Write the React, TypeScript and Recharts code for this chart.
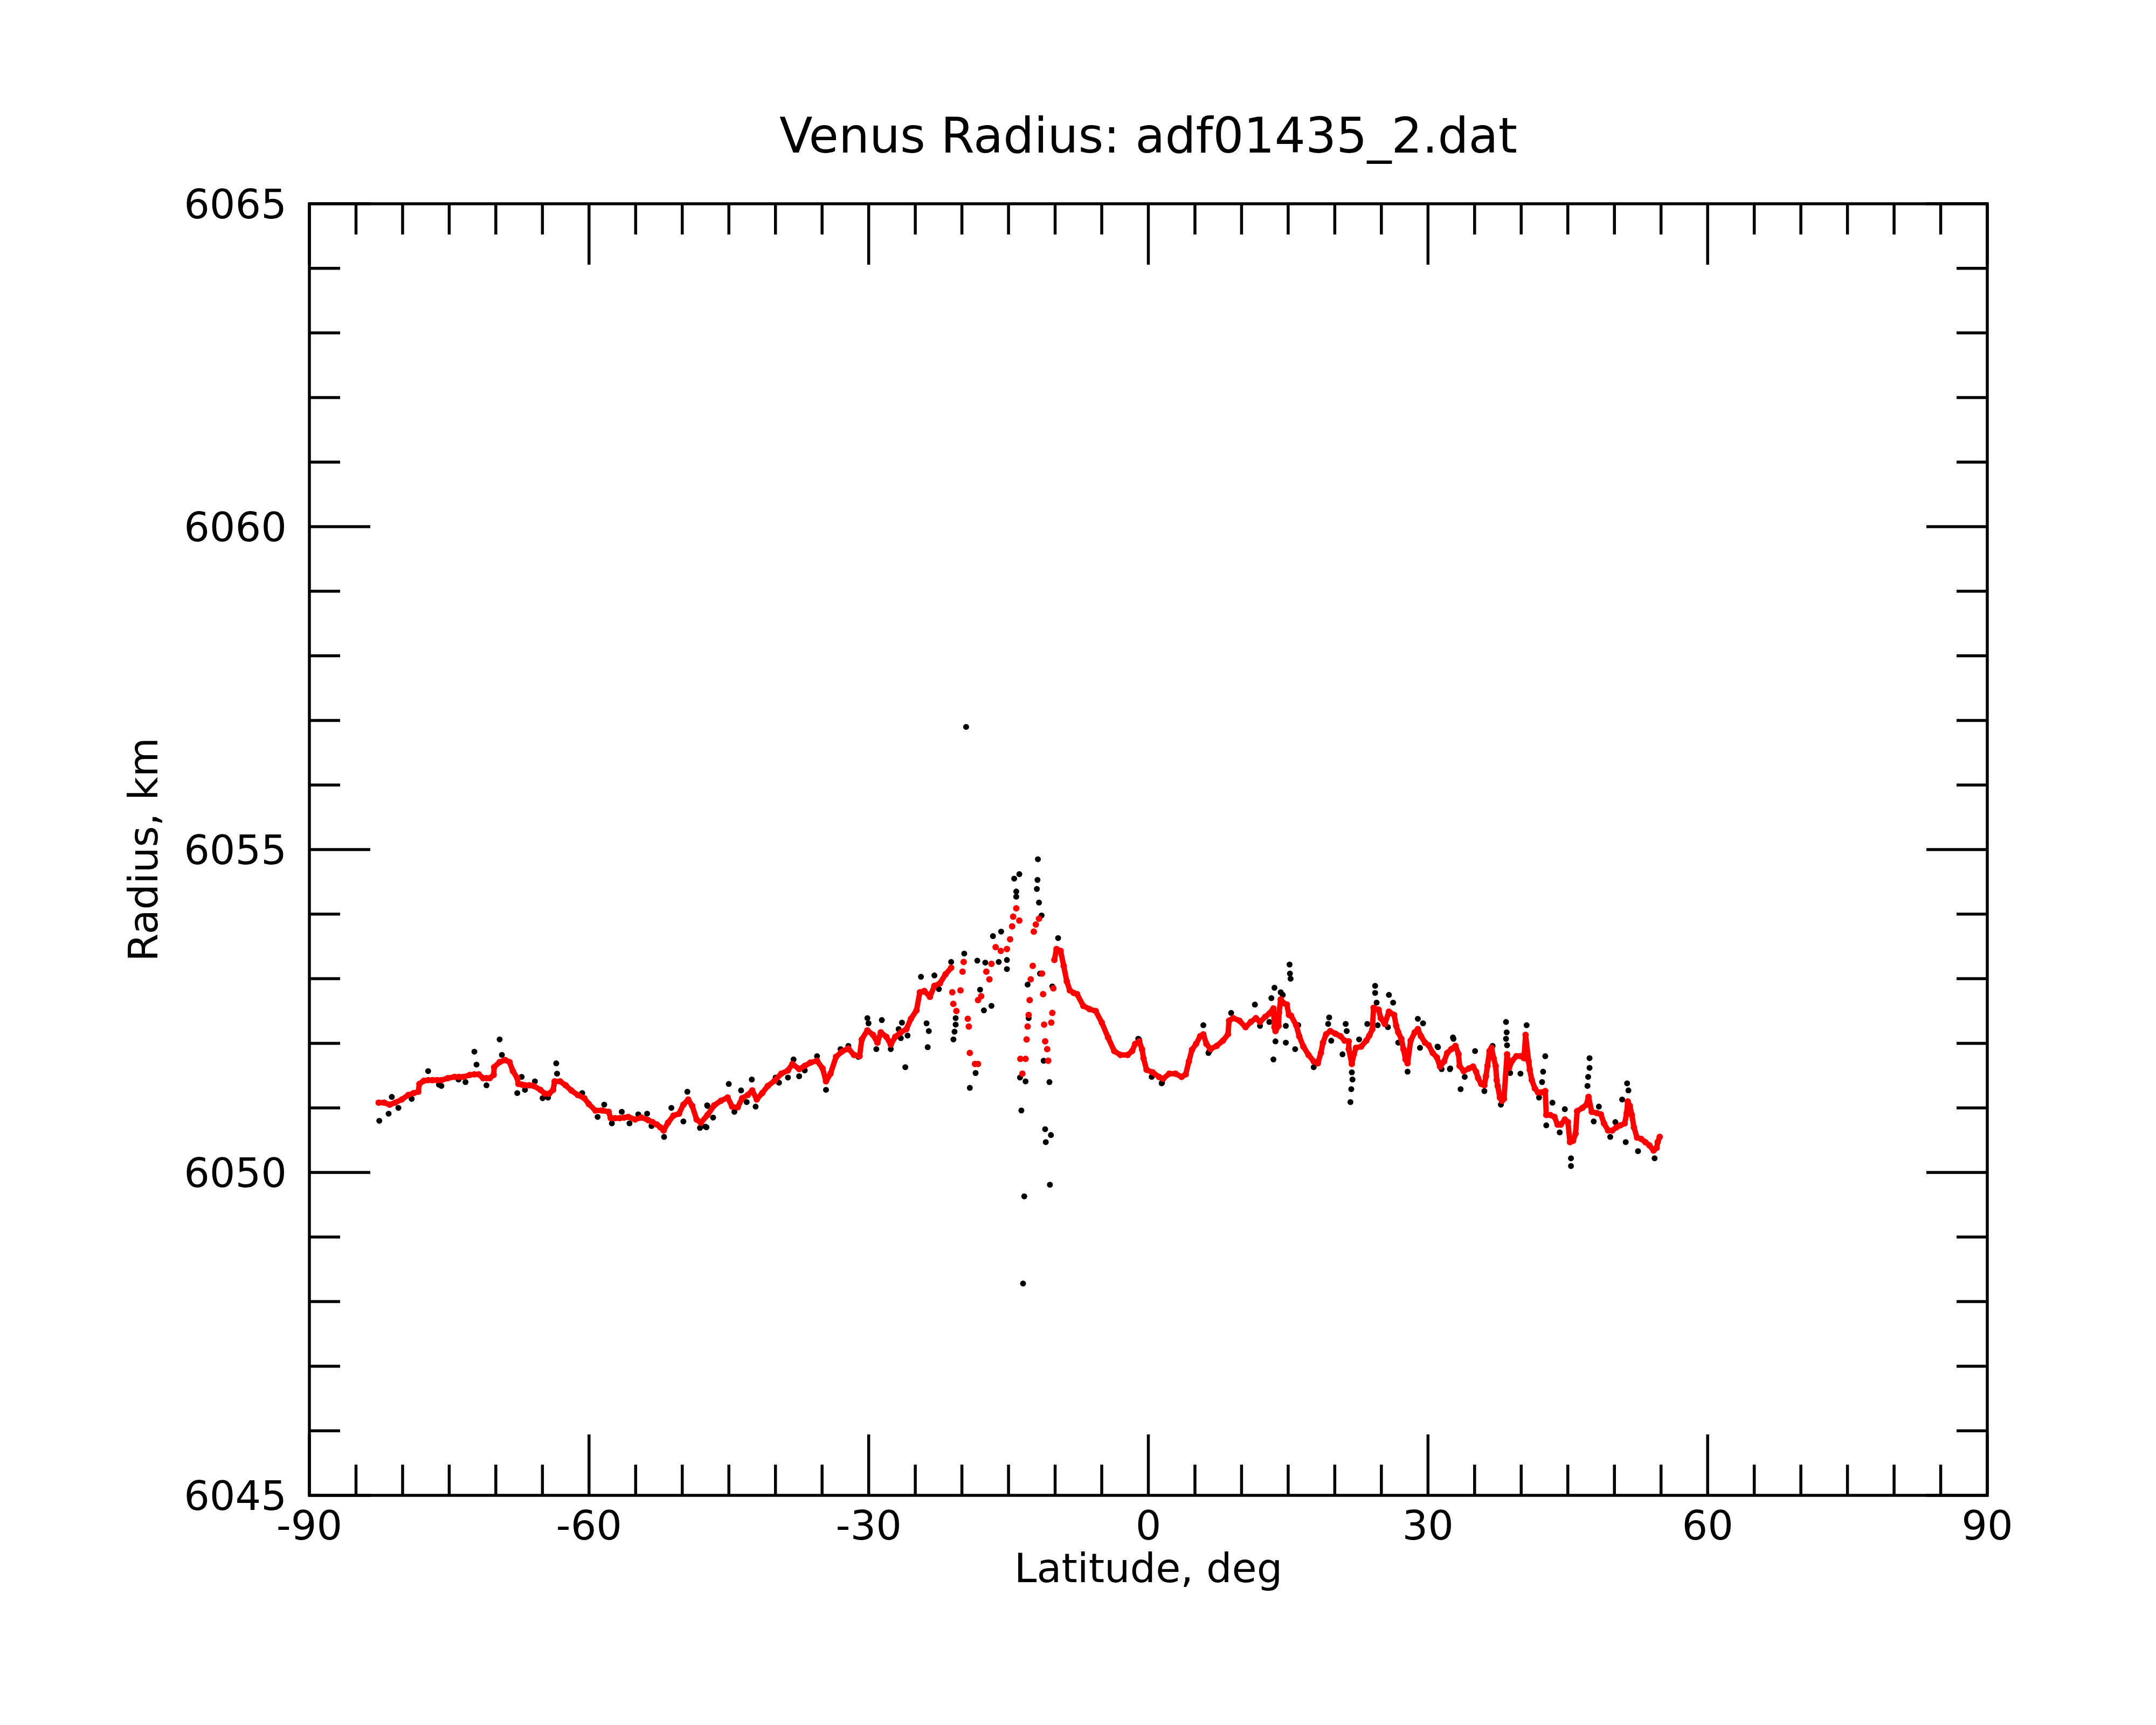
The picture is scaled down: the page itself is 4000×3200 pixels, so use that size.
import React from 'react';
import { ScatterChart, Scatter, XAxis, YAxis, ReferenceArea } from 'recharts';

// smoothed radius (red)
const RED_LAT = [
  -82.57, -81.98, -81.39, -80.8, -80.09, -79.39, -78.8, -78.32, -78.2, -77.73, -77.26, -76.79, -76.3, -75.84,
  -75.14, -74.43, -73.95, -73.48, -72.78, -72.3, -71.83, -71.36, -71.0, -70.65, -70.23, -70.18, -69.59, -69.0,
  -68.53, -68.17, -67.7, -67.58, -67.2, -66.87, -66.4, -65.93, -65.22, -64.75, -64.28, -63.85, -63.69, -63.1,
  -62.51, -61.91, -61.21, -60.5, -60.03, -59.32, -58.61, -57.9, -57.67, -57.2, -56.72, -56.25, -55.78, -55.07,
  -54.36, -53.65, -53.2, -52.71, -52.35, -52.0, -51.53, -50.94, -50.35, -49.88, -49.36, -48.93, -48.46, -48.01,
  -47.29, -46.57, -45.85, -45.13, -44.65, -44.05, -43.57, -42.97, -42.49, -42.01, -41.42, -40.82, -40.1, -39.38,
  -38.66, -38.18, -37.46, -36.86, -36.26, -35.54, -34.94, -34.58, -34.1, -33.5, -32.9, -32.18, -31.58, -30.98,
  -30.74, -30.14, -29.54, -29.06, -28.7, -28.1, -27.63, -27.15, -26.55, -25.95, -25.47, -24.87, -24.51, -24.03,
  -23.43, -22.95, -22.35, -21.75, -21.15, -21.03, -20.92, -20.59, -20.15, -19.93, -19.81, -19.37, -19.26, -19.15,
  -18.6, -18.27, -18.27, -17.93, -17.38, -17.05, -16.83, -16.38, -15.83, -15.17, -14.83, -14.61, -14.5, -14.17,
  -13.84, -13.73, -13.51, -13.17, -13.06, -12.95, -12.84, -12.73, -12.62, -12.4, -12.29, -12.07, -11.73, -11.4,
  -11.29, -11.18, -11.07, -10.85, -10.74, -10.41, -10.3, -10.19, -10.08, -9.85, -9.41, -9.08, -8.75, -8.42,
  -8.0, -7.64, -6.98, -6.31, -5.65, -4.99, -4.32, -3.66, -2.99, -2.22, -1.74, -1.41, -0.97, -0.68,
  -0.52, -0.19, 0.47, 1.14, 1.58, 2.24, 2.91, 3.57, 4.01, 4.35, 4.68, 5.12, 5.56, 5.9,
  6.23, 6.67, 7.33, 8.0, 8.55, 8.66, 9.1, 9.77, 10.43, 10.99, 11.54, 11.98, 12.54, 12.98,
  13.42, 13.53, 13.64, 13.97, 14.02, 14.2, 14.53, 14.86, 15.08, 15.3, 15.86, 16.19, 16.63, 17.18,
  17.74, 18.18, 18.51, 18.73, 19.07, 19.51, 20.06, 20.61, 21.06, 21.5, 21.5, 21.83, 22.05, 22.28,
  22.83, 23.38, 23.71, 24.04, 24.16, 24.71, 24.93, 25.37, 25.81, 26.37, 26.59, 26.81, 27.14, 27.37,
  27.59, 27.81, 28.14, 28.58, 28.91, 29.25, 29.69, 30.07, 30.51, 30.96, 31.29, 31.73, 32.06, 32.5,
  32.95, 33.28, 33.39, 33.83, 34.39, 34.83, 35.16, 35.38, 35.71, 36.05, 36.22, 36.38, 36.6, 36.82,
  37.04, 37.26, 37.37, 37.48, 37.71, 37.93, 38.15, 38.48, 38.7, 39.03, 39.48, 39.92, 40.3, 40.47,
  40.8, 40.92, 41.14, 41.47, 41.8, 42.13, 42.58, 42.69, 43.13, 43.57, 43.9, 44.24, 44.68, 45.01,
  45.23, 45.56, 45.83, 46.0, 46.56, 47.0, 47.22, 47.56, 48.11, 48.55, 48.88, 49.33, 49.77, 50.21,
  50.65, 51.1, 51.32, 51.43, 51.65, 51.87, 52.09, 52.43, 52.87, 53.31, 53.75, 54.2, 54.53, 54.64,
  54.86,
];
const RED_R = [
  6051.08, 6051.08, 6051.05, 6051.08, 6051.13, 6051.2, 6051.23, 6051.25, 6051.37, 6051.42, 6051.43, 6051.43, 6051.43, 6051.43,
  6051.46, 6051.48, 6051.48, 6051.48, 6051.51, 6051.52, 6051.52, 6051.46, 6051.46, 6051.46, 6051.51, 6051.63, 6051.71, 6051.74,
  6051.71, 6051.57, 6051.46, 6051.37, 6051.36, 6051.35, 6051.35, 6051.34, 6051.28, 6051.22, 6051.22, 6051.28, 6051.41, 6051.41,
  6051.35, 6051.27, 6051.2, 6051.15, 6051.06, 6050.96, 6050.96, 6050.94, 6050.84, 6050.84, 6050.84, 6050.85, 6050.86, 6050.82,
  6050.85, 6050.81, 6050.78, 6050.74, 6050.7, 6050.65, 6050.77, 6050.88, 6050.91, 6051.05, 6051.13, 6051.03, 6050.82, 6050.77,
  6050.89, 6051.04, 6051.11, 6051.16, 6051.02, 6051.01, 6051.15, 6051.2, 6051.27, 6051.13, 6051.23, 6051.34, 6051.42, 6051.53,
  6051.58, 6051.68, 6051.6, 6051.65, 6051.7, 6051.73, 6051.61, 6051.41, 6051.53, 6051.79, 6051.87, 6051.92, 6051.82, 6051.8,
  6052.06, 6052.2, 6052.13, 6052.01, 6052.17, 6052.1, 6051.98, 6052.1, 6052.17, 6052.22, 6052.38, 6052.51, 6052.79, 6052.81,
  6052.72, 6052.89, 6052.93, 6053.07, 6053.17, 6052.79, 6052.61, 6052.5, 6052.82, 6053.11, 6053.26, 6052.38, 6052.26, 6051.85,
  6051.68, 6051.68, 6052.67, 6052.73, 6053.11, 6052.99, 6053.23, 6053.49, 6053.43, 6053.46, 6053.61, 6053.81, 6053.96, 6054.09,
  6053.9, 6051.76, 6051.53, 6051.76, 6052.06, 6052.26, 6052.44, 6052.67, 6052.99, 6053.2, 6053.73, 6053.84, 6053.93, 6053.08,
  6052.76, 6052.29, 6052.03, 6051.91, 6051.73, 6052.32, 6052.47, 6052.85, 6053.29, 6053.46, 6053.43, 6053.2, 6052.96, 6052.82,
  6052.78, 6052.76, 6052.58, 6052.53, 6052.5, 6052.32, 6052.09, 6051.88, 6051.82, 6051.82, 6051.88, 6051.99, 6052.03, 6051.91,
  6051.77, 6051.59, 6051.55, 6051.48, 6051.45, 6051.53, 6051.53, 6051.48, 6051.52, 6051.72, 6051.9, 6051.99, 6052.11, 6052.14,
  6051.99, 6051.91, 6051.96, 6052.04, 6052.14, 6052.35, 6052.39, 6052.35, 6052.25, 6052.33, 6052.39, 6052.33, 6052.41, 6052.46,
  6052.54, 6052.25, 6052.19, 6052.27, 6052.47, 6052.68, 6052.62, 6052.6, 6052.44, 6052.43, 6052.28, 6052.11, 6051.95, 6051.82,
  6051.72, 6051.69, 6051.85, 6052.01, 6052.14, 6052.19, 6052.15, 6052.11, 6052.04, 6052.03, 6051.91, 6051.68, 6051.83, 6051.93,
  6051.95, 6052.04, 6052.12, 6052.22, 6052.55, 6052.52, 6052.39, 6052.3, 6052.49, 6052.44, 6052.27, 6052.17, 6052.07, 6051.91,
  6051.75, 6051.69, 6052.04, 6052.17, 6052.22, 6052.11, 6052.01, 6051.97, 6051.85, 6051.78, 6051.64, 6051.72, 6051.85, 6051.91,
  6051.96, 6051.83, 6051.65, 6051.57, 6051.61, 6051.64, 6051.56, 6051.46, 6051.37, 6051.35, 6051.49, 6051.65, 6051.88, 6051.93,
  6051.77, 6051.65, 6051.43, 6051.34, 6051.16, 6051.11, 6051.14, 6051.83, 6051.62, 6051.73, 6051.8, 6051.8, 6051.77, 6052.13,
  6051.72, 6051.59, 6051.43, 6051.3, 6051.24, 6051.24, 6051.26, 6050.89, 6050.89, 6050.86, 6050.74, 6050.74, 6050.82, 6050.78,
  6050.47, 6050.49, 6050.6, 6050.95, 6051.0, 6051.05, 6051.17, 6050.94, 6050.92, 6050.9, 6050.76, 6050.65, 6050.65, 6050.7,
  6050.73, 6050.76, 6050.92, 6051.1, 6051.03, 6050.89, 6050.7, 6050.54, 6050.52, 6050.47, 6050.42, 6050.34, 6050.38, 6050.47,
  6050.55,
];

// raw radius points that stand off the smoothed curve (black)
const BLACK_LAT = [
  -82.5, -81.5, -81.16, -80.45, -79.03, -77.26, -76.1, -75.84, -74.0, -73.25, -72.3, -72.07, -71.0, -69.59,
  -69.35, -67.7, -67.23, -66.87, -65.81, -64.98, -64.4, -63.52, -63.43, -60.73, -59.08, -58.37, -57.55, -56.49,
  -55.66, -54.72, -53.77, -53.3, -51.95, -51.17, -49.88, -49.45, -48.1, -47.33, -47.4, -47.53, -47.29, -46.69,
  -45.01, -44.41, -43.69, -43.09, -42.54, -42.13, -39.98, -39.62, -38.66, -38.06, -37.46, -36.86, -35.54, -34.58,
  -33.02, -32.18, -31.1, -30.14, -30.02, -29.18, -28.59, -27.63, -26.79, -26.43, -26.55, -26.07, -25.83, -24.39,
  -23.79, -23.55, -23.67, -22.95, -22.47, -21.15, -20.91, -20.79, -20.67, -20.67, -19.55, -14.39, -13.84, -14.17,
  -14.17, -11.85, -11.89, -11.96, -11.73, -11.45, -13.62, -13.31, -13.44, -11.07, -10.45, -11.0, -10.56, -10.61,
  -13.17, -13.77, -11.23, -19.15, -18.53, -17.64, -16.83, -18.05, -18.35, -17.49, -16.05, -15.17, -15.17, -15.79,
  -16.67, -19.75, -12.95, -11.62, -10.3, -12.84, -9.68, -1.0, 1.43, -1.08, 0.36, 1.47, 6.45, 6.56,
  5.9, 8.88, 11.43, 11.98, 12.98, 13.42, 13.64, 13.53, 13.2, 14.42, 14.2, 15.15, 15.19, 15.26,
  14.75, 14.75, 15.75, 16.08, 17.74, 19.4, 19.29, 19.62, 21.17, 21.28, 20.83, 21.83, 21.9, 21.77,
  21.68, 22.61, 23.49, 24.33, 24.33, 24.49, 24.6, 25.81, 26.26, 25.7, 26.81, 27.81, 28.91, 29.47,
  29.14, 31.02, 31.46, 32.35, 32.68, 32.73, 31.07, 32.39, 33.5, 33.94, 35.05, 36.05, 36.93, 37.82,
  38.37, 38.44, 38.37, 38.48, 38.81, 39.92, 40.58, 42.58, 42.35, 42.24, 41.91, 43.35, 42.69, 44.13,
  44.68, 45.34, 45.34, 47.33, 47.33, 47.18, 47.11, 47.78, 48.33, 49.55, 50.1, 50.83, 51.21, 51.36,
  51.5, 52.53, 54.31,
];
const BLACK_R = [
  6050.8, 6050.91, 6051.17, 6051.0, 6051.14, 6051.57, 6051.36, 6051.34, 6051.44, 6051.4, 6051.87, 6051.67, 6051.35, 6052.06,
  6051.82, 6051.23, 6051.48, 6051.28, 6051.41, 6051.15, 6051.16, 6051.69, 6051.53, 6051.23, 6050.86, 6051.05, 6050.76, 6050.94,
  6050.76, 6050.9, 6050.91, 6050.72, 6050.55, 6051.0, 6050.79, 6051.25, 6050.69, 6051.04, 6050.7, 6050.71, 6051.03, 6050.85,
  6051.37, 6050.94, 6051.27, 6051.09, 6051.44, 6051.02, 6051.47, 6051.39, 6051.47, 6051.75, 6051.49, 6051.58, 6051.8, 6051.28,
  6051.91, 6051.96, 6051.79, 6052.39, 6052.31, 6051.91, 6052.36, 6051.91, 6052.22, 6052.32, 6052.08, 6051.63, 6052.12, 6053.03,
  6052.31, 6052.19, 6051.94, 6053.05, 6052.84, 6053.26, 6052.06, 6052.18, 6052.29, 6052.39, 6056.9, 6054.55, 6054.62, 6054.35,
  6054.27, 6054.85, 6054.53, 6054.39, 6054.18, 6053.98, 6050.96, 6049.63, 6048.28, 6050.67, 6050.58, 6050.47, 6049.81, 6051.4,
  6051.41, 6051.47, 6051.73, 6051.31, 6051.54, 6052.51, 6052.58, 6052.83, 6053.28, 6053.25, 6053.26, 6053.15, 6053.29, 6053.73,
  6053.66, 6053.39, 6052.91, 6053.08, 6052.88, 6052.39, 6053.63, 6052.06, 6051.38, 6052.07, 6051.48, 6051.39, 6051.85, 6051.88,
  6052.28, 6052.47, 6052.6, 6052.27, 6052.33, 6051.75, 6052.03, 6052.86, 6052.7, 6052.75, 6052.79, 6053.22, 6053.08, 6053.0,
  6052.27, 6052.01, 6051.91, 6052.28, 6051.63, 6052.4, 6052.3, 6052.04, 6052.3, 6052.19, 6051.83, 6051.55, 6051.44, 6051.29,
  6051.09, 6052.06, 6052.3, 6052.89, 6052.78, 6052.63, 6052.28, 6052.75, 6052.63, 6052.25, 6052.01, 6051.56, 6052.38, 6052.31,
  6051.93, 6051.95, 6051.6, 6051.6, 6052.09, 6052.07, 6051.94, 6051.61, 6051.29, 6051.48, 6051.88, 6051.26, 6051.96, 6051.05,
  6052.33, 6052.17, 6052.07, 6051.97, 6051.54, 6051.53, 6052.28, 6051.8, 6051.56, 6051.4, 6051.16, 6051.08, 6050.73, 6050.62,
  6050.98, 6050.22, 6050.1, 6051.77, 6051.62, 6051.48, 6051.34, 6050.79, 6051.02, 6050.55, 6050.78, 6051.13, 6050.47, 6051.38,
  6051.27, 6050.33, 6050.22,
];

const LAT_TICKS = [-90, -85, -80, -75, -70, -65, -60, -55, -50, -45, -40, -35, -30, -25, -20, -15, -10, -5, 0,
  5, 10, 15, 20, 25, 30, 35, 40, 45, 50, 55, 60, 65, 70, 75, 80, 85, 90];
const LAT_LABELS = [-90, -60, -30, 0, 30, 60, 90];
const R_TICKS = [6045, 6046, 6047, 6048, 6049, 6050, 6051, 6052, 6053, 6054, 6055, 6056, 6057, 6058, 6059,
  6060, 6061, 6062, 6063, 6064, 6065];
const R_LABELS = [6045, 6050, 6055, 6060, 6065];

// where the smoothed curve breaks up into scattered points
const SCATTER_FROM = -21.1;
const SCATTER_TO = -10.1;

const W = 4000;
const H = 3200;
const LEFT = 574;
const RIGHT = 3687;
const TOP = 378;
const BOTTOM = 2774;
const AXIS_SIZE = 150;
const MAJOR = 113;
const MINOR = 57;
const LW = 5.5;
const FONT = 'DejaVu Sans, sans-serif';

const red = RED_LAT.map((lat, i) => ({ lat, r: RED_R[i] }));
const black = BLACK_LAT.map((lat, i) => ({ lat, r: BLACK_R[i] }));
const redSouth = red.filter((p) => p.lat < SCATTER_FROM);
const redMid = red.filter((p) => p.lat >= SCATTER_FROM && p.lat <= SCATTER_TO);
const redNorth = red.filter((p) => p.lat > SCATTER_TO);

function LatTick({ x, payload }: any) {
  const v = payload.value;
  const len = LAT_LABELS.includes(v) ? MAJOR : MINOR;
  return (
    <g>
      <line x1={x} x2={x} y1={BOTTOM} y2={BOTTOM - len} stroke="#000" strokeWidth={LW} />
      <line x1={x} x2={x} y1={TOP} y2={TOP + len} stroke="#000" strokeWidth={LW} />
      {LAT_LABELS.includes(v) && (
        <text x={x} y={BOTTOM + 82} textAnchor="middle" fontSize={75} fontFamily={FONT} fill="#000">
          {String(v)}
        </text>
      )}
    </g>
  );
}

function RadiusTick({ y, payload }: any) {
  const v = payload.value;
  const len = R_LABELS.includes(v) ? MAJOR : MINOR;
  return (
    <g>
      <line x1={LEFT} x2={LEFT + len} y1={y} y2={y} stroke="#000" strokeWidth={LW} />
      <line x1={RIGHT} x2={RIGHT - len} y1={y} y2={y} stroke="#000" strokeWidth={LW} />
      {R_LABELS.includes(v) && (
        <text x={532} y={y + 27} textAnchor="end" fontSize={75} fontFamily={FONT} fill="#000">
          {String(v)}
        </text>
      )}
    </g>
  );
}

const dot = (fill: string, r: number) => (p: any) => <circle cx={p.cx} cy={p.cy} r={r} fill={fill} />;
const redTrace = { stroke: '#ff0000', strokeWidth: 10, strokeLinejoin: 'round', strokeLinecap: 'round' };

export default function App() {
  return (
    <div style={{ position: 'absolute', left: 0, top: 0, width: W, height: H, background: '#fff' }}>
      <ScatterChart
        width={W}
        height={H}
        margin={{ top: TOP, right: W - RIGHT, bottom: H - BOTTOM - AXIS_SIZE, left: LEFT - AXIS_SIZE }}
      >
        <XAxis
          type="number"
          dataKey="lat"
          domain={[-90, 90]}
          ticks={LAT_TICKS}
          interval={0}
          height={AXIS_SIZE}
          axisLine={false}
          tickLine={false}
          tick={<LatTick />}
          allowDataOverflow
        />
        <YAxis
          type="number"
          dataKey="r"
          domain={[6045, 6065]}
          ticks={R_TICKS}
          interval={0}
          width={AXIS_SIZE}
          axisLine={false}
          tickLine={false}
          tick={<RadiusTick />}
          allowDataOverflow
        />
        <Scatter data={black} fill="#000" shape={dot('#000', 5.5)} isAnimationActive={false} />
        <Scatter data={redSouth} fill="#ff0000" line={redTrace} shape={dot('#ff0000', 6)} isAnimationActive={false} />
        <Scatter data={redMid} fill="#ff0000" shape={dot('#ff0000', 6)} isAnimationActive={false} />
        <Scatter data={redNorth} fill="#ff0000" line={redTrace} shape={dot('#ff0000', 6)} isAnimationActive={false} />
        <ReferenceArea
          x1={-90}
          x2={90}
          y1={6045}
          y2={6065}
          fill="none"
          fillOpacity={0}
          stroke="#000"
          strokeWidth={LW}
          ifOverflow="visible"
        />
        <text x={(LEFT + RIGHT) / 2} y={283} textAnchor="middle" fontSize={90} fontFamily={FONT} fill="#000">
          Venus Radius: adf01435_2.dat
        </text>
        <text x={(LEFT + RIGHT) / 2} y={2935} textAnchor="middle" fontSize={75} fontFamily={FONT} fill="#000">
          Latitude, deg
        </text>
        <text
          x={292}
          y={(TOP + BOTTOM) / 2}
          textAnchor="middle"
          fontSize={75}
          fontFamily={FONT}
          fill="#000"
          transform={`rotate(-90, 292, ${(TOP + BOTTOM) / 2})`}
        >
          Radius, km
        </text>
      </ScatterChart>
    </div>
  );
}
